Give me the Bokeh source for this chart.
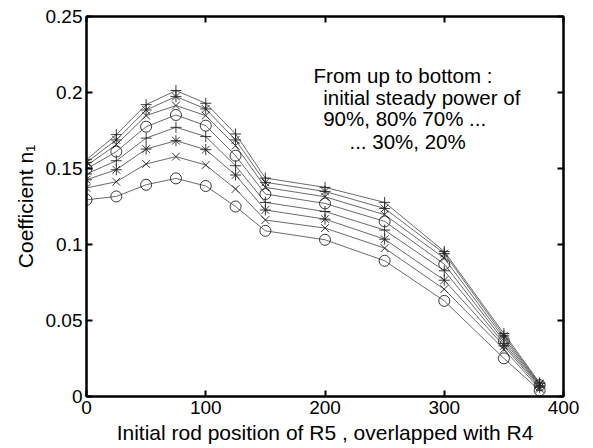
from bokeh.plotting import figure
from bokeh.models import Range1d, LinearAxis, Label, FixedTicker
from bokeh.embed import file_html
from bokeh.resources import INLINE

x_pos = [0, 25, 50, 75, 100, 125, 150, 200, 250, 300, 350, 380]

p90 = [0.1558, 0.1723, 0.1920, 0.2013, 0.1929, 0.1727, 0.1437, 0.1376, 0.1277, 0.0954, 0.0414, 0.0090]
p80 = [0.1540, 0.1688, 0.1885, 0.1973, 0.1892, 0.1688, 0.1409, 0.1349, 0.1237, 0.0941, 0.0399, 0.0085]
p70 = [0.1518, 0.1657, 0.1848, 0.1914, 0.1848, 0.1650, 0.1376, 0.1314, 0.1196, 0.0910, 0.0383, 0.0080]
p60 = [0.1497, 0.1611, 0.1775, 0.1852, 0.1782, 0.1584, 0.1332, 0.1270, 0.1152, 0.0871, 0.0366, 0.0075]
p50 = [0.1464, 0.1551, 0.1700, 0.1771, 0.1710, 0.1518, 0.1277, 0.1217, 0.1095, 0.0827, 0.0348, 0.0070]
p40 = [0.1426, 0.1492, 0.1628, 0.1683, 0.1624, 0.1457, 0.1227, 0.1167, 0.1035, 0.0765, 0.0333, 0.0060]
p30 = [0.1372, 0.1413, 0.1530, 0.1578, 0.1523, 0.1365, 0.1161, 0.1108, 0.0976, 0.0706, 0.0310, 0.0050]
p20 = [0.1294, 0.1316, 0.1393, 0.1435, 0.1385, 0.1250, 0.1090, 0.1031, 0.0893, 0.0629, 0.0251, 0.0040]

series = [p90, p80, p70, p60, p50, p40, p30, p20]
markers = ["cross", "asterisk", "x", "circle", "cross", "asterisk", "x", "circle"]

x_ticks = [0, 100, 200, 300, 400]
x_tick_labels = ["0", "100", "200", "300", "400"]
y_ticks = [0, 0.05, 0.1, 0.15, 0.2, 0.25]
y_tick_labels = ["0", "0.05", "0.1", "0.15", "0.2", "0.25"]

note_lines = ["From up to bottom  :", "initial steady power of", "90%, 80% 70% ...", "...  30%, 20%"]

FONT = "Liberation Sans"
TICK_FS = "19px"
LABEL_FS = "21px"
NOTE_FS = "20.5px"

p = figure(width=593, height=448, output_backend="svg", toolbar_location=None,
           x_range=Range1d(0, 400), y_range=Range1d(0, 0.25),
           min_border_left=86, min_border_right=30, min_border_top=16, min_border_bottom=52)
p.background_fill_color = "white"
p.border_fill_color = "white"
p.outline_line_color = "black"
p.outline_line_width = 2
p.xgrid.visible = False
p.ygrid.visible = False

for s, m in zip(series, markers):
    p.line(x_pos, s, line_color="#444444", line_width=0.8)
    p.scatter(x_pos, s, marker=m, size=11, line_color="#222222", fill_color=None, line_width=0.9)

def style_axis(ax):
    ax.axis_line_color = "black"
    ax.axis_line_width = 2
    ax.major_tick_in = 6
    ax.major_tick_out = 0
    ax.major_tick_line_width = 2
    ax.minor_tick_line_color = None
    ax.major_label_text_font = FONT
    ax.major_label_text_font_size = TICK_FS
    ax.major_label_text_color = "black"
    ax.axis_label_text_font = FONT
    ax.axis_label_text_font_size = LABEL_FS
    ax.axis_label_text_font_style = "normal"
    ax.axis_label_text_color = "black"

xa = p.xaxis[0]
xa.ticker = FixedTicker(ticks=x_ticks)
xa.major_label_overrides = {t: l for t, l in zip(x_ticks, x_tick_labels)}
xa.axis_label = "Initial rod position of R5 , overlapped with R4"
style_axis(xa)
xa.major_label_standoff = 4
xa.axis_label_standoff = 4

ya = p.yaxis[0]
ya.ticker = FixedTicker(ticks=y_ticks)
ya.major_label_overrides = {t: l for t, l in zip(y_ticks, y_tick_labels)}
ya.axis_label = "Coefficient n\u2081"
style_axis(ya)
ya.major_label_standoff = 4
ya.axis_label_standoff = 6

ra = LinearAxis(ticker=FixedTicker(ticks=y_ticks))
style_axis(ra)
ra.major_label_overrides = {t: "" for t in y_ticks}
p.add_layout(ra, "right")
ta = LinearAxis(ticker=FixedTicker(ticks=x_ticks))
style_axis(ta)
ta.major_label_overrides = {t: "" for t in x_ticks}
p.add_layout(ta, "above")

note_x = [190.4, 198.5, 198.5, 220.5]
note_y = [0.2111, 0.1968, 0.1826, 0.1677]
for t, nx, ny in zip(note_lines, note_x, note_y):
    p.add_layout(Label(x=nx, y=ny, text=t, text_font=FONT, text_font_size=NOTE_FS,
                       text_color="black", text_baseline="alphabetic"))

open("out.html", "w").write(file_html(p, INLINE))
